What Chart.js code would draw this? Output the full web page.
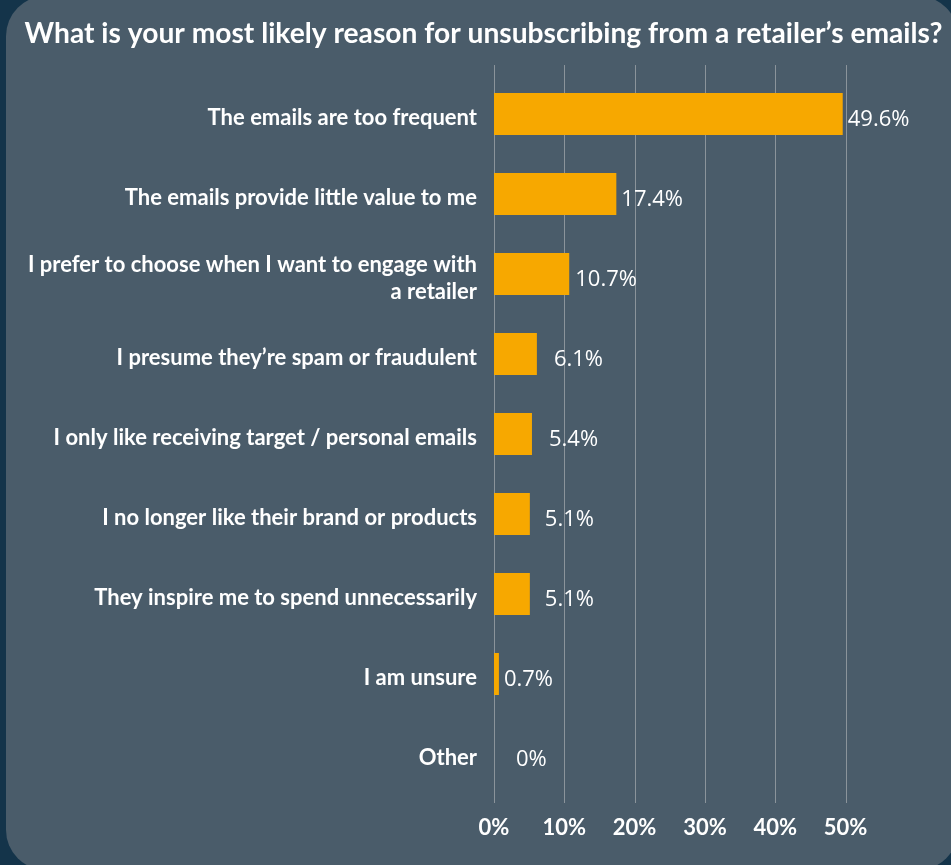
<!DOCTYPE html>
<html>
<head>
<meta charset="utf-8">
<script src="https://cdn.jsdelivr.net/npm/chart.js@4.4.0/dist/chart.umd.min.js"></script>
<style>
  html, body { margin: 0; padding: 0; }
  body { width: 951px; height: 865px; background: #14344a; overflow: hidden; position: relative; }
  .card { position: absolute; left: 6px; top: -4px; width: 952px; height: 874px; background: #4a5c6a; border-radius: 40px; }
  .wrap { position: absolute; left: 0; top: 0; width: 951px; height: 865px; }
</style>
</head>
<body>
<div class="card"></div>
<div class="wrap"><canvas id="chart" width="951" height="865"></canvas></div>
<script>
const reasons = [
    'The emails are too frequent',
    'The emails provide little value to me',
    ['I prefer to choose when I want to engage with', 'a retailer'],
    'I presume they’re spam or fraudulent',
    'I only like receiving target / personal emails',
    'I no longer like their brand or products',
    'They inspire me to spend unnecessarily',
    'I am unsure',
    'Other'
];
const shares = [49.6, 17.4, 10.7, 6.1, 5.4, 5.1, 5.1, 0.7, 0];
const xTicks = [0, 10, 20, 30, 40, 50];

// how far each value label sits past the end of its bar (px)
const labelNudge = [5, 5, 6, 17, 17, 15, 15, 5, 22];

const white = '#ffffff';
const gridColor = '#8b949b';

// vertical gridlines, a bit taller than the plot area
const gridLines = {
    id: 'gridLines',
    beforeDatasetsDraw(c) {
        const x = c.scales.x, area = c.chartArea, ctx = c.ctx;
        ctx.save();
        ctx.strokeStyle = gridColor;
        ctx.lineWidth = 1;
        xTicks.forEach(v => {
            const px = Math.round(x.getPixelForValue(v)) + 0.5;
            ctx.beginPath();
            ctx.moveTo(px, area.top - 9);
            ctx.lineTo(px, area.bottom + 9);
            ctx.stroke();
        });
        ctx.restore();
    }
};

const valueLabels = {
    id: 'valueLabels',
    afterDatasetsDraw(c) {
        const ctx = c.ctx;
        ctx.save();
        ctx.font = '22px "Open Sans"';
        ctx.fillStyle = white;
        ctx.textBaseline = 'middle';
        ctx.textAlign = 'left';
        c.getDatasetMeta(0).data.forEach((bar, i) => {
            ctx.fillText(shares[i] + '%', bar.x + labelNudge[i], bar.y + 6);
        });
        ctx.restore();
    }
};

const chart = document.querySelector('#chart').getContext('2d');

new Chart(chart, {
    type: 'bar',
    data: {
        labels: reasons,
        datasets: [{
            data: shares,
            backgroundColor: '#f7a800',
            borderWidth: 0,
            categoryPercentage: 1,
            barPercentage: 0.525
        }]
    },
    options: {
        indexAxis: 'y',
        responsive: false,
        animation: false,
        layout: { padding: { left: 16, right: 0, top: 0, bottom: 0 } },
        plugins: {
            legend: { display: false },
            tooltip: { enabled: false },
            title: {
                display: true,
                text: 'What is your most likely reason for unsubscribing from a retailer’s emails?',
                color: white,
                font: { family: 'Lato', size: 28.2, weight: 'bold', lineHeight: 1.2 },
                padding: { top: 17, bottom: 23.2 }
            }
        },
        scales: {
            x: {
                min: 0,
                max: 65,
                afterBuildTicks(s) { s.ticks = xTicks.map(v => ({ value: v })); },
                afterFit(s) { s.height = 71; },
                grid: { display: false },
                border: { display: false },
                ticks: {
                    color: white,
                    padding: 13,
                    font: { family: 'Lato', size: 22, weight: 'bold' },
                    callback: v => v + '%'
                }
            },
            y: {
                afterFit(s) { s.width = 478; },
                grid: { display: false },
                border: { display: false },
                ticks: {
                    color: white,
                    padding: 9,
                    labelOffset: 4,
                    font: { family: 'Lato', size: 22, weight: 'bold', lineHeight: 1.23 }
                }
            }
        }
    },
    plugins: [gridLines, valueLabels]
});
</script>
</body>
</html>
